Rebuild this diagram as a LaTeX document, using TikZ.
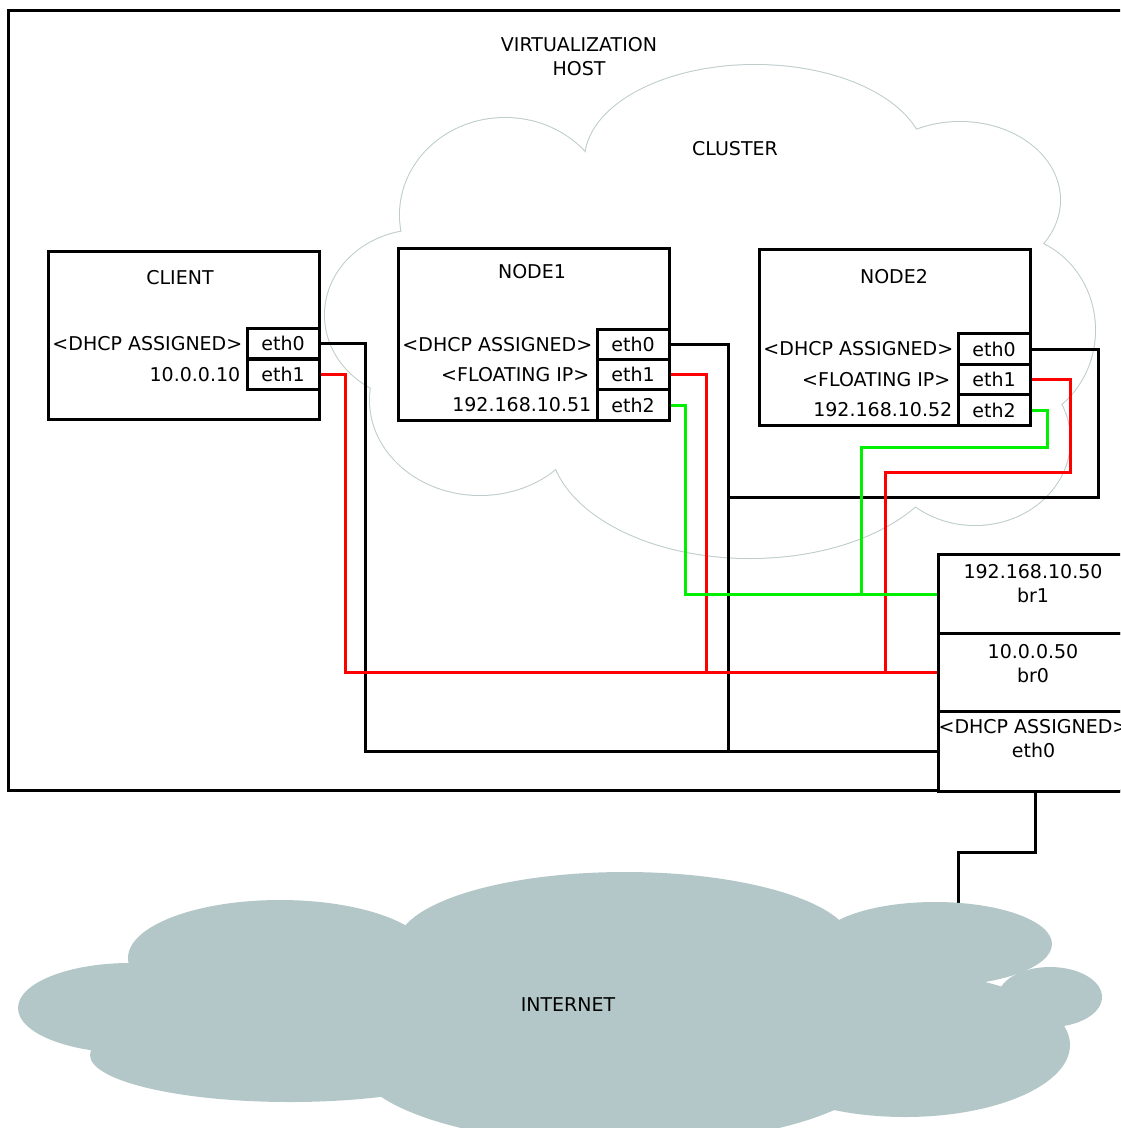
\documentclass[tikz,border=0pt]{standalone}
\usepackage{fontspec}
\setmainfont{DejaVu Sans}
\definecolor{clusterline}{RGB}{190,204,204}
\definecolor{netfill}{RGB}{180,199,200}
\definecolor{wirered}{RGB}{255,0,0}
\definecolor{wiregreen}{RGB}{0,240,0}
\tikzset{
  box/.style={draw, line width=3pt, fill=white, inner sep=0pt},
  port/.style={box, minimum width=72pt, minimum height=30.5pt},
  lbl/.style={anchor=east, inner sep=0pt},
  txt/.style={inner sep=0pt, align=center},
  wblk/.style={line width=3pt, line join=miter, black},
  wred/.style={line width=3pt, line join=miter, wirered},
  wgrn/.style={line width=3pt, line join=miter, wiregreen},
  cloudline/.style={draw=clusterline, line width=2pt, fill=white}
}
\begin{document}
\begin{tikzpicture}[x=1pt,y=-1pt, font=\fontsize{19}{24}\selectfont]
\useasboundingbox (0,0) rectangle (1120,1128);
\clip (0,0) rectangle (1120,1128);
\fill[white] (0,0) rectangle (1120,1128);

% virtualization host frame
\draw[line width=3pt] (8,10) rectangle (1140,790);
\node[txt] (hosttitle) at (579,57) {VIRTUALIZATION\\HOST};

% cluster cloud (union outline)
\def\clusterlobes{755/160/170/95, 505/215/105/97, 960/200/100/78, 1005/330/90/95, 975/440/95/85, 750/440/200/118, 480/400/110/95, 420/315/95/85, 740/320/250/160}
\foreach \cx/\cy/\rx/\ry in \clusterlobes {
  \draw[cloudline] (\cx,\cy) ellipse [x radius=\rx, y radius=\ry];
}
\foreach \cx/\cy/\rx/\ry in \clusterlobes {
  \fill[white] (\cx,\cy) ellipse [x radius=\rx, y radius=\ry];
}
\node[txt] (clustertitle) at (735,149) {CLUSTER};

% client
\node[box, minimum width=271pt, minimum height=168pt] (client) at (183.5,335) {};
\node[txt] (clienttitle) at (180,278) {CLIENT};
\node[port] (ce0) at (283,343.5) {eth0};
\node[port] (ce1) at (283,374.5) {eth1};
\node[lbl] (cl0) at ([xshift=-3pt]ce0.west) {<DHCP ASSIGNED>};
\node[lbl] (cl1) at ([xshift=-5pt]ce1.west) {10.0.0.10};

% node1
\node[box, minimum width=271pt, minimum height=172pt] (node1) at (533.5,334) {};
\node[txt] (n1title) at (532,272) {NODE1};
\node[port] (n1e0) at (633,344.3) {eth0};
\node[port] (n1e1) at (633,374.7) {eth1};
\node[port] (n1e2) at (633,405) {eth2};
\node[lbl] (n1l0) at ([xshift=-3pt]n1e0.west) {<DHCP ASSIGNED>};
\node[lbl] (n1l1) at ([xshift=-6pt]n1e1.west) {<FLOATING IP>};
\node[lbl] (n1l2) at ([xshift=-4pt]n1e2.west) {192.168.10.51};

% node2
\node[box, minimum width=271pt, minimum height=176pt] (node2) at (894.5,337) {};
\node[txt] (n2title) at (894,277) {NODE2};
\node[port] (n2e0) at (994,349) {eth0};
\node[port] (n2e1) at (994,379.5) {eth1};
\node[port] (n2e2) at (994,410) {eth2};
\node[lbl] (n2l0) at ([xshift=-3pt]n2e0.west) {<DHCP ASSIGNED>};
\node[lbl] (n2l1) at ([xshift=-6pt]n2e1.west) {<FLOATING IP>};
\node[lbl] (n2l2) at ([xshift=-4pt]n2e2.west) {192.168.10.52};

% junction points
\coordinate (j1) at (728,750);
\coordinate (j2) at (728,497);
\coordinate (r1) at (706,672);
\coordinate (r2) at (885,672);
\coordinate (g2) at (861,593);
\coordinate (inet) at (958,915);

% bridges on host
\node[box, minimum width=193pt, minimum height=79pt, anchor=north west] (br1) at (937,553) {};
\node[box, minimum width=193pt, minimum height=78pt, anchor=north west] (br0) at (937,632) {};
\node[box, minimum width=193pt, minimum height=80pt, anchor=north west] (heth) at (937,710) {};
\node[txt] (br1t) at (1033,584) {192.168.10.50\\br1};
\node[txt] (br0t) at (1033,663.5) {10.0.0.50\\br0};
\node[txt] (etht) at (1033.5,738.5) {<DHCP ASSIGNED>\\eth0};

% black wires (eth0)
\draw[wblk] (ce0.east) -- ++(45,0) |- (heth.west);
\draw[wblk] (n1e0.east) -| (j1);
\draw[wblk] (n2e0.east) -- ++(67,0) |- (j2);
% red wires (eth1)
\draw[wred] (ce1.east) -- ++(25,0) |- (br0.west);
\draw[wred] (n1e1.east) -| (r1);
\draw[wred] (n2e1.east) -- ++(39,0) -- ++(0,92.5) -| (r2);
% green wires (eth2)
\draw[wgrn] (n1e2.east) -- ++(15,0) |- (br1.west);
\draw[wgrn] (n2e2.east) -- ++(16,0) -- ++(0,37) -| (g2);
% uplink to internet
\draw[wblk] (heth.south) -- ++(0,59) -| (inet);

% internet cloud
\foreach \cx/\cy/\rx/\ry in {130/1008/112/45, 280/958/152/58, 625/945/228/73, 935/944/117/42, 1050/997/52/30, 905/1045/165/72, 290/1055/200/47, 620/1060/265/85, 560/1010/400/60} {
  \fill[netfill] (\cx,\cy) ellipse [x radius=\rx, y radius=\ry];
}
\node[txt] (internet) at (568,1005) {INTERNET};
\end{tikzpicture}
\end{document}
